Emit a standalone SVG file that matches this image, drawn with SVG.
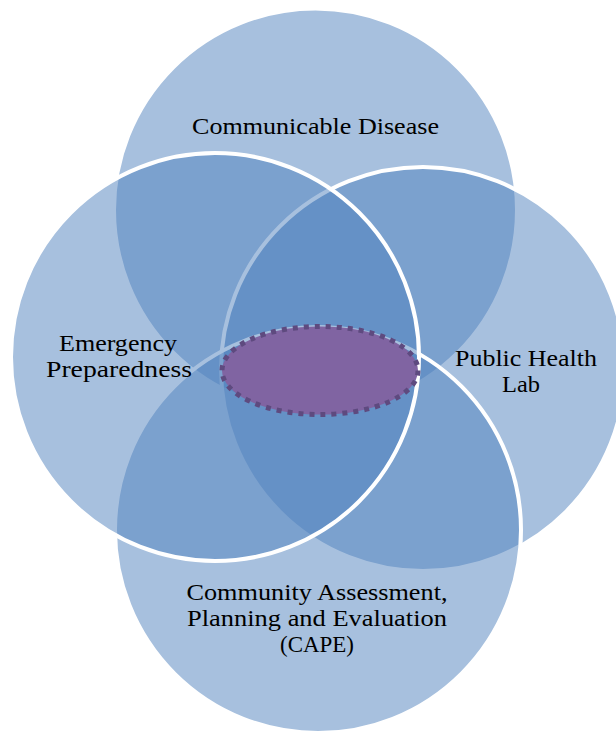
<svg xmlns="http://www.w3.org/2000/svg" width="616" height="734" viewBox="0 0 616 734">
  <style>
    .set { fill: #4F81BD; fill-opacity: 0.5; stroke: #FFFFFF; stroke-width: 4; }
    .lbl { font-family: "Liberation Serif", "Times New Roman", serif; font-size: 23px; fill: #000000; text-anchor: middle; }
    .core { fill: #8064A2; stroke: #5E4A7F; stroke-width: 5; stroke-dasharray: 5 6; }
  </style>
  <rect width="616" height="734" fill="#FFFFFF"/>
  <g id="communicable-disease">
    <circle class="set" cx="315.5" cy="210" r="201.5"/>
    <text class="lbl" x="315.5" y="134" textLength="247" lengthAdjust="spacingAndGlyphs">Communicable Disease</text>
  </g>
  <g id="public-health-lab">
    <circle class="set" cx="423" cy="369" r="202"/>
    <text class="lbl" x="526" y="366" textLength="142" lengthAdjust="spacingAndGlyphs">Public Health</text>
    <text class="lbl" x="521" y="392" textLength="38" lengthAdjust="spacingAndGlyphs">Lab</text>
  </g>
  <g id="cape">
    <circle class="set" cx="318" cy="530" r="203"/>
    <text class="lbl" x="317" y="600" textLength="261" lengthAdjust="spacingAndGlyphs">Community Assessment,</text>
    <text class="lbl" x="317" y="626" textLength="260" lengthAdjust="spacingAndGlyphs">Planning and Evaluation</text>
    <text class="lbl" x="317" y="652" textLength="74" lengthAdjust="spacingAndGlyphs">(CAPE)</text>
  </g>
  <g id="emergency-preparedness">
    <circle class="set" cx="215" cy="357" r="204"/>
    <text class="lbl" x="118" y="351" textLength="118" lengthAdjust="spacingAndGlyphs">Emergency</text>
    <text class="lbl" x="119" y="377" textLength="146" lengthAdjust="spacingAndGlyphs">Preparedness</text>
  </g>
  <g id="core">
    <ellipse class="core" cx="320" cy="370.5" rx="98" ry="44"/>
  </g>
  <g id="connectors"></g>
</svg>
